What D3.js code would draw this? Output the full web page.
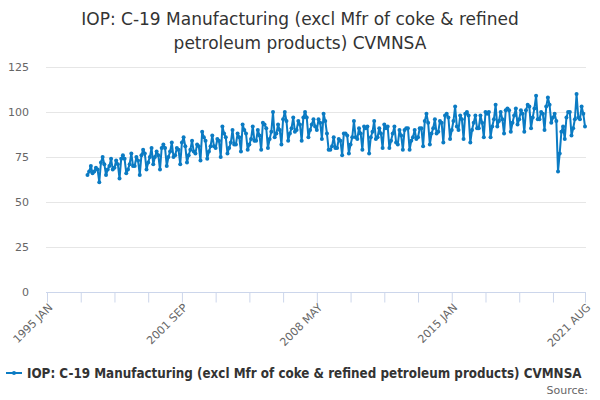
<!DOCTYPE html>
<html>
<head>
<meta charset="utf-8">
<script src="https://cdn.jsdelivr.net/npm/d3@7"></script>
<style>
  body { margin: 0; background: #fff; }
  svg { font-family: "DejaVu Sans", Verdana, sans-serif; }
</style>
</head>
<body>
<svg id="chart" width="600" height="400"></svg>
<script>
const title = ['IOP: C-19 Manufacturing (excl Mfr of coke & refined', 'petroleum products) CVMNSA'];
const seriesName = 'IOP: C-19 Manufacturing (excl Mfr of coke & refined petroleum products) CVMNSA';
const monthNames = ['JAN','FEB','MAR','APR','MAY','JUN','JUL','AUG','SEP','OCT','NOV','DEC'];
const firstYear = 1995, lastYear = 2021, lastMonth = 8;
const dataStart = '1997 JAN';
const yTicks = [0, 25, 50, 75, 100, 125];
const xLabels = ['1995 JAN', '2001 SEP', '2008 MAY', '2015 JAN', '2021 AUG'];

// monthly values, one row per year from 1997 JAN
const values = [
  65, 67, 70, 66, 67, 69, 68, 61, 72, 75, 71, 65,
  68, 70, 74, 68, 69, 73, 71, 63, 74, 76, 74, 66,
  68, 71, 77, 70, 70, 75, 73, 65, 76, 79, 77, 68,
  72, 75, 80, 71, 75, 78, 76, 68, 80, 82, 80, 70,
  75, 78, 83, 75, 76, 80, 79, 71, 83, 86, 81, 72,
  76, 79, 84, 78, 77, 82, 81, 73, 89, 86, 84, 74,
  78, 81, 87, 81, 80, 85, 84, 75, 92, 88, 86, 77,
  80, 83, 90, 82, 82, 88, 86, 78, 93, 90, 88, 79,
  82, 85, 92, 84, 84, 90, 87, 79, 94, 93, 91, 80,
  85, 89, 100, 86, 88, 93, 90, 82, 96, 100, 95, 84,
  88, 91, 97, 89, 90, 95, 93, 84, 97, 100, 97, 86,
  90, 93, 96, 92, 90, 96, 94, 85, 99, 95, 88, 79,
  79, 81, 86, 80, 80, 85, 84, 76, 88, 88, 87, 77,
  82, 86, 95, 86, 85, 91, 88, 79, 92, 91, 92, 77,
  86, 89, 95, 85, 86, 91, 88, 80, 93, 91, 92, 80,
  84, 88, 92, 83, 82, 90, 87, 79, 90, 91, 91, 79,
  84, 86, 90, 85, 86, 91, 91, 81, 95, 99, 94, 82,
  88, 91, 96, 88, 89, 95, 94, 83, 98, 99, 97, 85,
  90, 95, 103, 92, 90, 98, 96, 85, 99, 100, 98, 83,
  90, 94, 98, 91, 91, 98, 94, 86, 100, 99, 100, 86,
  92, 96, 104, 92, 95, 100, 96, 88, 101, 102, 101, 89,
  94, 98, 102, 93, 96, 101, 99, 89, 101, 104, 103, 91,
  97, 102, 109, 96, 96, 100, 99, 90, 103, 108, 104, 94,
  97, 99, 95, 67, 77, 89, 92, 85, 97, 100, 100, 87,
  91, 96, 110, 97, 96, 103, 99, 92
];

const categories = [];
for (let y = firstYear; y <= lastYear; y++) {
  for (let m = 0; m < 12; m++) {
    if (y === lastYear && m >= lastMonth) break;
    categories.push(y + ' ' + monthNames[m]);
  }
}
const startIdx = categories.indexOf(dataStart);
const points = values.map((v, i) => ({ cat: categories[startIdx + i], v }));

const svg = d3.select('#chart');
const x = d3.scalePoint().domain(categories).range([47, 585]);
const y = d3.scaleLinear().domain([0, 125]).range([292, 67]);

const color = '#0b7bc3';

// title
svg.append('g').selectAll('text')
  .data(title).join('text')
  .attr('x', 300).attr('y', (d, i) => 25 + i * 24)
  .attr('text-anchor', 'middle')
  .attr('fill', '#333').attr('font-size', 17)
  .text(d => d);

// grid + y labels
const grid = svg.append('g');
grid.selectAll('line').data(yTicks.filter(d => d > 0)).join('line')
  .attr('x1', 46).attr('x2', 586)
  .attr('y1', d => y(d) + 0.5).attr('y2', d => y(d) + 0.5)
  .attr('stroke', '#e6e6e6');
grid.selectAll('text').data(yTicks).join('text')
  .attr('x', 29).attr('y', d => y(d) + 4)
  .attr('text-anchor', 'end')
  .attr('fill', '#666').attr('font-size', 11)
  .text(d => d);

// x axis
const tickCats = categories.filter((d, i) => i % 20 === 0 || i === categories.length - 1);
const xAxis = d3.axisBottom(x).tickValues(tickCats).tickSize(10)
  .tickFormat(d => xLabels.includes(d) ? d : '');
const gx = svg.append('g').attr('transform', 'translate(0,292.5)').call(xAxis);
gx.select('.domain').attr('stroke', '#ccd6eb').attr('d', 'M46,0H586');
gx.selectAll('.tick line').attr('stroke', '#ccd6eb');
gx.selectAll('.tick text')
  .attr('fill', '#666').attr('font-size', 11)
  .attr('font-family', '"DejaVu Sans", Verdana, sans-serif')
  .attr('text-anchor', 'end')
  .attr('transform', 'translate(3,13) rotate(-45)')
  .attr('dy', '0.35em').attr('y', 0).attr('x', 0);

// series
const line = d3.line().x(d => x(d.cat)).y(d => y(d.v));
svg.append('path').datum(points)
  .attr('d', line).attr('fill', 'none')
  .attr('stroke', color).attr('stroke-width', 2)
  .attr('stroke-linejoin', 'round');
svg.append('g').selectAll('circle').data(points).join('circle')
  .attr('cx', d => x(d.cat)).attr('cy', d => y(d.v)).attr('r', 2)
  .attr('fill', color);

// legend
const lg = svg.append('g').attr('transform', 'translate(0,373)');
lg.append('line').attr('x1', 6).attr('x2', 22).attr('y1', 0).attr('y2', 0)
  .attr('stroke', color).attr('stroke-width', 2);
lg.append('circle').attr('cx', 14).attr('cy', 0).attr('r', 2).attr('fill', color);
lg.append('text').attr('x', 27).attr('y', 5)
  .attr('fill', '#333').attr('font-size', 13.3).attr('font-weight', 'bold')
  .attr('font-family', '"DejaVu Sans Condensed", "DejaVu Sans", sans-serif')
  .text(seriesName);

svg.append('text').attr('x', 588).attr('y', 394)
  .attr('text-anchor', 'end').attr('fill', '#666').attr('font-size', 11)
  .text('Source:');
</script>
</body>
</html>
